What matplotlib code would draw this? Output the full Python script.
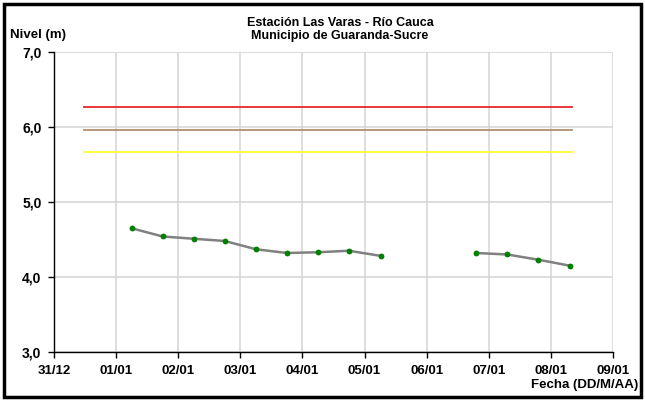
import matplotlib
matplotlib.use("Agg")
import matplotlib.pyplot as plt
from matplotlib.patches import Rectangle

plt.rcParams['font.family'] = ['Liberation Sans', 'DejaVu Sans']

# Data (x in days since 31/12)
day_x = [1.25, 1.75, 2.25, 2.75, 3.25, 3.75, 4.25, 4.75, 5.27, None, 6.80, 7.30, 7.80, 8.31]
nivel = [4.65, 4.54, 4.51, 4.48, 4.37, 4.32, 4.33, 4.35, 4.28, None, 4.32, 4.30, 4.23, 4.15]

umbral_rojo = 6.27
umbral_naranja = 5.96
umbral_amarillo = 5.67
umbral_inicio = 0.49
umbral_fin = 8.34

tick_labels = ["31/12", "01/01", "02/01", "03/01", "04/01", "05/01", "06/01", "07/01", "08/01", "09/01"]
y_ticks = [3.0, 4.0, 5.0, 6.0, 7.0]

fig = plt.figure(figsize=(6.45, 4.01), dpi=100)
ax = fig.add_axes([54/645, 1-352/401, (613-54)/645, (352-52)/401])

# thresholds
for val, col in [(umbral_rojo, '#e8262a'), (umbral_naranja, '#b09070'), (umbral_amarillo, '#ffff33')]:
    ax.plot([umbral_inicio, umbral_fin], [val, val], color=col, lw=1.3, zorder=3)

# series with gap
segs = []
cur = []
for x, y in zip(day_x, nivel):
    if x is None:
        if cur:
            segs.append(cur)
        cur = []
    else:
        cur.append((x, y))
if cur:
    segs.append(cur)
for s in segs:
    xs = [p[0] for p in s]
    ys = [p[1] for p in s]
    ax.plot(xs, ys, color='#808080', lw=1.8, zorder=4, solid_capstyle='round')
    ax.plot(xs, ys, 'o', color='#008000', ms=4.2, zorder=5, markeredgewidth=0)

ax.set_xlim(0, 9)
ax.set_ylim(3, 7)
ax.set_xticks(range(len(tick_labels)))
ax.set_xticklabels(tick_labels, fontsize=9.5, fontweight='bold')
ax.set_yticks(y_ticks)
ax.set_yticklabels([f"{v:.1f}".replace('.', ',') for v in y_ticks], fontsize=10, fontweight='bold')
ax.grid(True, color='#d4d4d4', lw=1.1)
ax.set_axisbelow(True)
for sp in ['top', 'right']:
    ax.spines[sp].set_visible(False)
for sp in ['left', 'bottom']:
    ax.spines[sp].set_color('black')
    ax.spines[sp].set_linewidth(1)
ax.tick_params(axis='x', direction='out', length=4, width=1, color='black', pad=5)
ax.tick_params(axis='y', direction='out', length=4, width=1, color='black', pad=5)

fig.text(340/645, 1-23.5/401, "Estación Las Varas - Río Cauca", ha='center', va='center', fontsize=9, fontweight='bold')
fig.text(340/645, 1-35.5/401, "Municipio de Guaranda-Sucre", ha='center', va='center', fontsize=9, fontweight='bold')
fig.text(10/645, 1-35/401, "Nivel (m)", ha='left', va='center', fontsize=9.5, fontweight='bold')
fig.text(638/645, 1-385/401, "Fecha (DD/M/AA)", ha='right', va='center', fontsize=9.5, fontweight='bold')

fig.patches.append(Rectangle((4/645, 4/401), 1-8/645, 1-8/401, transform=fig.transFigure,
                             fill=False, edgecolor='black', lw=2.5))

fig.savefig("out.png", dpi=100)
